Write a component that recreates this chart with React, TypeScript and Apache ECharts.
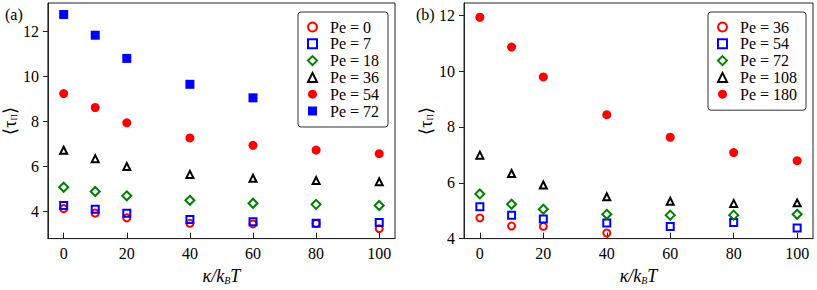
import React, { useEffect, useRef } from "react";
import * as echarts from "echarts";

// x values (kappa / kBT)
const kappa = [0, 10, 20, 40, 60, 80, 100];
const kappa5 = [0, 10, 20, 40, 60];
const kappa4 = [0, 10, 20, 40];

// panel (a)
const aPe0 = [4.13, 3.93, 3.72, 3.48, 3.45, 3.47, 3.24];
const aPe7 = [4.27, 4.1, 3.93, 3.65, 3.55, 3.48, 3.52];
const aPe18 = [5.08, 4.89, 4.7, 4.5, 4.37, 4.32, 4.27];
const aPe36 = [6.72, 6.35, 6.0, 5.65, 5.48, 5.38, 5.32];
const aPe54 = [9.24, 8.62, 7.94, 7.27, 6.94, 6.73, 6.57];
const aPe72 = [12.75, 11.83, 10.8, 9.65, 9.05];

// panel (b)
const bPe36 = [4.74, 4.45, 4.44, 4.2];
const bPe54 = [5.14, 4.84, 4.7, 4.56, 4.43, 4.58, 4.38];
const bPe72 = [5.6, 5.23, 5.05, 4.87, 4.84, 4.84, 4.87];
const bPe108 = [6.99, 6.33, 5.92, 5.5, 5.34, 5.26, 5.28];
const bPe180 = [11.93, 10.86, 9.79, 8.44, 7.63, 7.08, 6.79];

const xTicks = [0, 20, 40, 60, 80, 100];
const yTicks = [4, 6, 8, 10, 12];

const namesA = ["Pe = 0", "Pe = 7", "Pe = 18", "Pe = 36", "Pe = 54", "Pe = 72"];
const namesB = ["Pe = 36", "Pe = 54", "Pe = 72", "Pe = 108", "Pe = 180"];

const FONT = "Liberation Serif";
const RED = "#ff0000";
const BLUE = "#0000ff";
const GREEN = "#008000";
const BLACK = "#000000";

const zip = (xs: number[], ys: number[]) => ys.map((y, i) => [xs[i], y]);

type Style = { symbol: string; size: number; color: string; filled: boolean };
const openCircle: Style = { symbol: "circle", size: 7, color: RED, filled: false };
const openSquare: Style = { symbol: "rect", size: 7, color: BLUE, filled: false };
const openDiamond: Style = { symbol: "diamond", size: 9, color: GREEN, filled: false };
const openTriangle: Style = { symbol: "triangle", size: 7, color: BLACK, filled: false };
const fullCircle: Style = { symbol: "circle", size: 9, color: RED, filled: true };
const fullSquare: Style = { symbol: "rect", size: 9, color: BLUE, filled: true };

function mk(name: string, idx: number, data: number[][], s: Style) {
  return {
    type: "scatter",
    name,
    xAxisIndex: idx,
    yAxisIndex: idx,
    data,
    symbol: s.symbol,
    symbolSize: s.size,
    itemStyle: s.filled
      ? { color: s.color, borderWidth: 0, opacity: 1 }
      : { color: "rgba(0,0,0,0)", borderColor: s.color, borderWidth: 2, opacity: 1 },
  };
}

function xAxis(idx: number) {
  return {
    type: "value",
    gridIndex: idx,
    min: -5,
    max: 105,
    axisLine: { show: true, onZero: false, lineStyle: { color: "#222", width: 1 } },
    axisTick: { show: true, inside: true, length: 6, customValues: xTicks, lineStyle: { color: "#222" } },
    axisLabel: { customValues: xTicks, margin: 7, fontFamily: FONT, fontSize: 16, color: "#000" },
    splitLine: { show: false },
    name: "{i|κ/k}{s|B}{i|T}",
    nameLocation: "middle",
    nameGap: 24,
    nameTextStyle: {
      fontFamily: FONT,
      rich: {
        i: { fontFamily: FONT, fontStyle: "italic", fontSize: 18, color: "#000" },
        s: { fontFamily: FONT, fontStyle: "italic", fontSize: 10, color: "#000", padding: [9, 0, 0, 0] },
      },
    },
  };
}

function yAxis(idx: number, min: number, max: number, gap: number) {
  return {
    type: "value",
    gridIndex: idx,
    min,
    max,
    axisLine: { show: true, onZero: false, lineStyle: { color: "#222", width: 1 } },
    axisTick: { show: true, inside: false, length: 5, customValues: yTicks, lineStyle: { color: "#222" } },
    axisLabel: { customValues: yTicks, margin: 9, fontFamily: FONT, fontSize: 16, color: "#000" },
    splitLine: { show: false },
    name: "{t|⟨τ}{s|Π}{t|⟩}",
    nameLocation: "middle",
    nameGap: gap,
    nameTextStyle: {
      fontFamily: FONT,
      rich: {
        t: { fontFamily: FONT, fontSize: 18, color: "#000" },
        s: { fontFamily: FONT, fontSize: 9, color: "#000", padding: [8, 0, 0, 0] },
      },
    },
  };
}

function legend(left: number, data: string[], idx: number) {
  return {
    show: true,
    orient: "vertical",
    left,
    top: 12,
    itemWidth: 9,
    itemHeight: 9,
    itemGap: 0.8,
    padding: [7, 9, 8, 9],
    borderColor: "#333",
    borderWidth: 1,
    borderRadius: 3,
    backgroundColor: "#fff",
    selectedMode: false,
    data: data.map((n) => (idx === 0 ? "a|" : "b|") + n),
    formatter: (n: string) => n.slice(2),
    textStyle: { fontFamily: FONT, fontSize: 16, lineHeight: 16, color: "#000", padding: [0, 0, 0, 8] },
  };
}

export default function App() {
  const ref = useRef<HTMLDivElement>(null);
  useEffect(() => {
    if (!ref.current) return;
    const chart = echarts.init(ref.current, undefined, { renderer: "svg" });
    const A = (n: string) => "a|" + n;
    const B = (n: string) => "b|" + n;
    chart.setOption({
      animation: false,
      grid: [
        { left: 46, top: 3, width: 349, height: 242, show: true, borderColor: "#222", borderWidth: 1, backgroundColor: "transparent" },
        { left: 464, top: 3, width: 349, height: 242, show: true, borderColor: "#222", borderWidth: 1, backgroundColor: "transparent" },
      ],
      xAxis: [xAxis(0), xAxis(1)],
      yAxis: [yAxis(0, 2.8, 13.26, 24), yAxis(1, 4, 12.44, 27)],
      legend: [legend(298, namesA, 0), legend(708, namesB, 1)],
      graphic: [
        { type: "text", left: 5, top: 6, style: { text: "(a)", fontFamily: FONT, fontSize: 16, fill: "#000" } },
        { type: "text", left: 416, top: 6, style: { text: "(b)", fontFamily: FONT, fontSize: 16, fill: "#000" } },
      ],
      series: [
        mk(A(namesA[0]), 0, zip(kappa, aPe0), openCircle),
        mk(A(namesA[1]), 0, zip(kappa, aPe7), openSquare),
        mk(A(namesA[2]), 0, zip(kappa, aPe18), openDiamond),
        mk(A(namesA[3]), 0, zip(kappa, aPe36), openTriangle),
        mk(A(namesA[4]), 0, zip(kappa, aPe54), fullCircle),
        mk(A(namesA[5]), 0, zip(kappa5, aPe72), fullSquare),
        mk(B(namesB[0]), 1, zip(kappa4, bPe36), openCircle),
        mk(B(namesB[1]), 1, zip(kappa, bPe54), openSquare),
        mk(B(namesB[2]), 1, zip(kappa, bPe72), openDiamond),
        mk(B(namesB[3]), 1, zip(kappa, bPe108), openTriangle),
        mk(B(namesB[4]), 1, zip(kappa, bPe180), fullCircle),
      ],
    });
    return () => chart.dispose();
  }, []);
  return (
    <div
      ref={ref}
      style={{ position: "fixed", left: 0, top: 0, width: 817, height: 290, background: "#fff" }}
    />
  );
}
